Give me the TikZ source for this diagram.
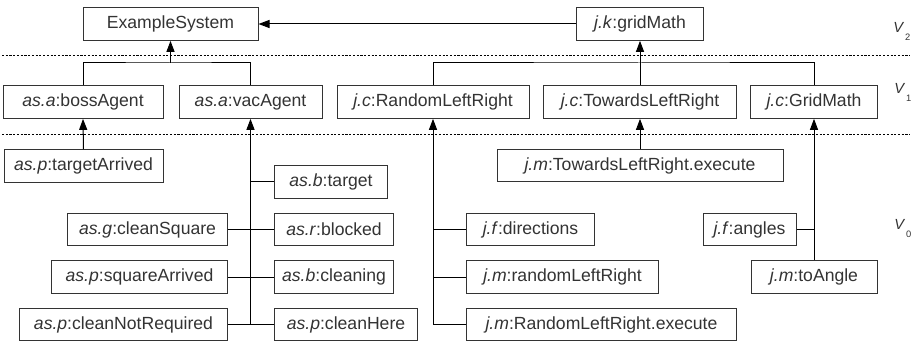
\documentclass[tikz,border=0pt]{standalone}
\usepackage{fontspec}
\setmainfont{Liberation Sans}
\usepackage{tikz}
\usetikzlibrary{arrows.meta, positioning}
\definecolor{inkgray}{RGB}{51,51,51}

\begin{document}
\begin{tikzpicture}[
  x=0.75pt, y=-0.75pt,
  box/.style={rectangle, draw=inkgray, line width=0.75pt, text=inkgray, inner sep=0pt,
              minimum height=24.5pt, font=\fontsize{13.2}{15}\selectfont},
  wd/.style={minimum width=#1*0.75pt},
  link/.style={line width=0.75pt},
  arrow/.style={-{Triangle[length=8.25pt,width=6pt]}, line width=0.75pt},
  level/.style={line width=0.6pt, dash pattern=on 1.6pt off 1.2pt},
  layer/.style={anchor=base west, inner sep=0pt, text=inkgray, font=\fontsize{11}{13}\selectfont}
]
\useasboundingbox (0,0) rectangle (917,342);

% levels
\draw[level] (2,55) -- (910,55);
\draw[level] (2,134) -- (910,134);
\node[layer] (v2) at (893,33) {\itshape V\kern1.5pt\upshape\raisebox{-6pt}{\fontsize{7}{8}\selectfont 2}};
\node[layer] (v1) at (894,94) {\itshape V\kern1.5pt\upshape\raisebox{-6pt}{\fontsize{7}{8}\selectfont 1}};
\node[layer] (v0) at (894,229) {\itshape V\kern1.5pt\upshape\raisebox{-6pt}{\fontsize{7}{8}\selectfont 0}};

% V2
\node[box, wd=175] (sys) at (170.5,24) {ExampleSystem};
\node[box, wd=127] (gm)  at (640,24)   {\textit{j.k}:gridMath};

% V1
\node[box, wd=160] (boss) at (83,102)    {\textit{as.a}:bossAgent};
\node[box, wd=143] (vac)  at (250.5,102) {\textit{as.a}:vacAgent};
\node[box, wd=192] (rlr)  at (433,102)   {\textit{j.c}:RandomLeftRight};
\node[box, wd=193] (tlr)  at (640,102)   {\textit{j.c}:TowardsLeftRight};
\node[box, wd=127] (gmc)  at (814,102)   {\textit{j.c}:GridMath};

% V0, agents
\node[box, wd=159] (tarr)     at (83.5,166)  {\textit{as.p}:targetArrived};
\node[box, wd=113, anchor=west] (target)   at (274,182)   {\textit{as.b}:target};
\node[box, wd=119, anchor=west] (blocked)  at (274,229.5) {\textit{as.r}:blocked};
\node[box, wd=119, anchor=west] (cleaning) at (274,277)   {\textit{as.b}:cleaning};
\node[box, wd=143, anchor=west] (chere)    at (274,324.5) {\textit{as.p}:cleanHere};
\node[box, wd=160, anchor=east] (csq) at (228,229.5) {\textit{as.g}:cleanSquare};
\node[box, wd=176, anchor=east] (sqa) at (228,277)   {\textit{as.p}:squareArrived};
\node[box, wd=208, anchor=east] (cnr) at (228,324.5) {\textit{as.p}:cleanNotRequired};

% V0, grid
\node[box, wd=286] (tlrx) at (640,165.5) {\textit{j.m}:TowardsLeftRight.execute};
\node[box, wd=128, anchor=west] (dirs) at (466,229.5) {\textit{j.f}:directions};
\node[box, wd=192, anchor=west] (rlrm) at (466,277)   {\textit{j.m}:randomLeftRight};
\node[box, wd=270, anchor=west] (rlrx) at (466,324.5) {\textit{j.m}:RandomLeftRight.execute};
\node[box, wd=93]  (angles) at (749.5,229.5) {\textit{j.f}:angles};
\node[box, wd=126] (toang)  at (814,277)     {\textit{j.m}:toAngle};

\coordinate (busL) at (170.5,63);
\coordinate (busR) at (640,63);
\coordinate (rlrStem) at (433,324.5);

% V1 -> V2
\draw[arrow] (gm.west) -- (sys.east);
\draw[link] (boss.north) |- (busL) -| (vac.north);
\draw[arrow] (busL) -- (busL |- sys.south);
\draw[link] (rlr.north) |- (busR) -| (gmc.north);
\draw[arrow] (tlr.north) -- (gm.south);

% V0 -> V1
\draw[arrow] (tarr.north) -- (boss.south);
\draw[arrow] (cnr.east -| vac.south) -- (vac.south);
\draw[link] (target.west) -- (target.west -| vac.south);
\draw[link] (csq.east) -- (blocked.west);
\draw[link] (sqa.east) -- (cleaning.west);
\draw[link] (cnr.east) -- (chere.west);

\draw[arrow] (rlrStem) -- (rlr.south);
\draw[link] (dirs.west) -- (dirs.west -| rlrStem);
\draw[link] (rlrm.west) -- (rlrm.west -| rlrStem);
\draw[link] (rlrx.west) -- (rlrStem);

\draw[arrow] (tlrx.north) -- (tlr.south);
\draw[arrow] (toang.north) -- (gmc.south);
\draw[link] (angles.east) -- (angles.east -| toang.north);
\end{tikzpicture}
\end{document}
